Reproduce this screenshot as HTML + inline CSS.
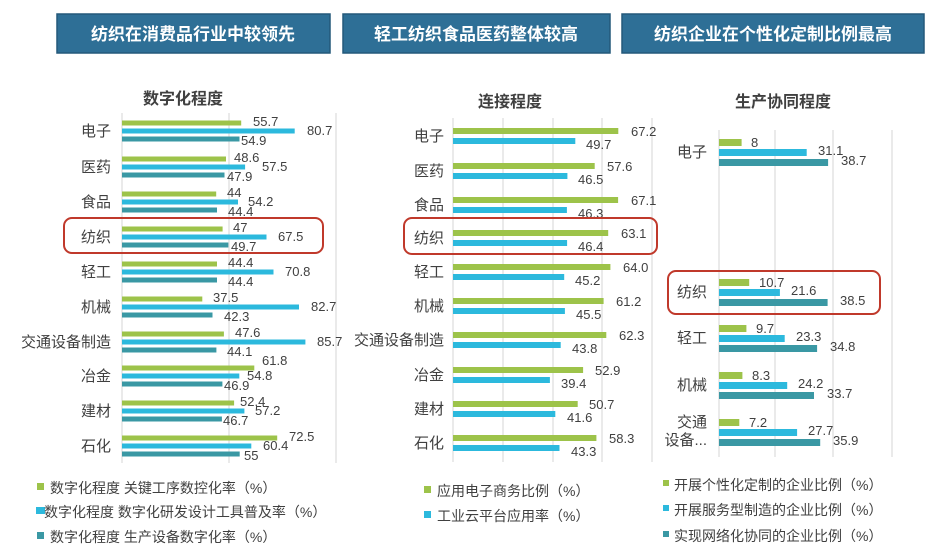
<!DOCTYPE html>
<html><head><meta charset="utf-8"><style>
html,body{margin:0;padding:0;background:#fff;}
svg{display:block;font-family:"Liberation Sans","Noto Sans CJK SC",sans-serif;}
.ban{fill:#2e6f96;stroke:#24587a;stroke-width:1.5}
.bt{fill:#fff;font-size:17px;font-weight:bold;text-anchor:middle}
.tt{fill:#404040;font-size:16px;font-weight:bold;text-anchor:middle}
.c{fill:#404040;font-size:15px;text-anchor:end}
.v{fill:#404040;font-size:13px}
.lg{fill:#404040;font-size:14px}
.g{fill:#9dc34a}.b{fill:#2cb9dd}.t{fill:#3a98a4}
.gr{stroke:#e3e3e3;stroke-width:1.5}
.rb{fill:none;stroke:#c0392b;stroke-width:2}
</style></head><body>
<svg width="946" height="557" viewBox="0 0 946 557">
<rect class="ban" x="57" y="14" width="273" height="39"/>
<text class="bt" x="193" y="40">纺织在消费品行业中较领先</text>
<rect class="ban" x="343" y="14" width="267" height="39"/>
<text class="bt" x="476" y="40">轻工纺织食品医药整体较高</text>
<rect class="ban" x="622" y="14" width="302" height="39"/>
<text class="bt" x="773" y="40">纺织企业在个性化定制比例最高</text>

<!-- LEFT -->
<text class="tt" x="183" y="104">数字化程度</text>
<line class="gr" x1="122" y1="113" x2="122" y2="463"/>
<line class="gr" x1="229" y1="113" x2="229" y2="463"/>
<line class="gr" x1="336" y1="113" x2="336" y2="463"/>
<g transform="translate(0,131)"><text class="c" x="111" y="5">电子</text><rect class="g" x="122" y="-10.5" width="119.2" height="5"/><rect class="b" x="122" y="-2.5" width="172.7" height="5"/><rect class="t" x="122" y="5.5" width="117.5" height="5"/><text class="v" x="253" y="-5">55.7</text><text class="v" x="307" y="4">80.7</text><text class="v" x="241" y="14">54.9</text></g>
<g transform="translate(0,167)"><text class="c" x="111" y="5">医药</text><rect class="g" x="122" y="-10.5" width="104" height="5"/><rect class="b" x="122" y="-2.5" width="123.1" height="5"/><rect class="t" x="122" y="5.5" width="102.5" height="5"/><text class="v" x="234" y="-5">48.6</text><text class="v" x="262" y="4">57.5</text><text class="v" x="227" y="14">47.9</text></g>
<g transform="translate(0,202)"><text class="c" x="111" y="5">食品</text><rect class="g" x="122" y="-10.5" width="94.2" height="5"/><rect class="b" x="122" y="-2.5" width="116" height="5"/><rect class="t" x="122" y="5.5" width="95" height="5"/><text class="v" x="227" y="-5">44</text><text class="v" x="248" y="4">54.2</text><text class="v" x="228" y="14">44.4</text></g>
<g transform="translate(0,237)"><text class="c" x="111" y="5">纺织</text><rect class="g" x="122" y="-10.5" width="100.6" height="5"/><rect class="b" x="122" y="-2.5" width="144.5" height="5"/><rect class="t" x="122" y="5.5" width="106.4" height="5"/><text class="v" x="233" y="-5">47</text><text class="v" x="278" y="4">67.5</text><text class="v" x="231" y="14">49.7</text></g>
<g transform="translate(0,272)"><text class="c" x="111" y="5">轻工</text><rect class="g" x="122" y="-10.5" width="95" height="5"/><rect class="b" x="122" y="-2.5" width="151.5" height="5"/><rect class="t" x="122" y="5.5" width="95" height="5"/><text class="v" x="228" y="-5">44.4</text><text class="v" x="285" y="4">70.8</text><text class="v" x="228" y="14">44.4</text></g>
<g transform="translate(0,307)"><text class="c" x="111" y="5">机械</text><rect class="g" x="122" y="-10.5" width="80.3" height="5"/><rect class="b" x="122" y="-2.5" width="177" height="5"/><rect class="t" x="122" y="5.5" width="90.5" height="5"/><text class="v" x="213" y="-5">37.5</text><text class="v" x="311" y="4">82.7</text><text class="v" x="224" y="14">42.3</text></g>
<g transform="translate(0,342)"><text class="c" x="111" y="5">交通设备制造</text><rect class="g" x="122" y="-10.5" width="101.9" height="5"/><rect class="b" x="122" y="-2.5" width="183.4" height="5"/><rect class="t" x="122" y="5.5" width="94.4" height="5"/><text class="v" x="235" y="-5">47.6</text><text class="v" x="317" y="4">85.7</text><text class="v" x="227" y="14">44.1</text></g>
<g transform="translate(0,376)"><text class="c" x="111" y="5">冶金</text><rect class="g" x="122" y="-10.5" width="132.3" height="5"/><rect class="b" x="122" y="-2.5" width="117.3" height="5"/><rect class="t" x="122" y="5.5" width="100.4" height="5"/><text class="v" x="262" y="-11">61.8</text><text class="v" x="247" y="4">54.8</text><text class="v" x="224" y="14">46.9</text></g>
<g transform="translate(0,411)"><text class="c" x="111" y="5">建材</text><rect class="g" x="122" y="-10.5" width="112.1" height="5"/><rect class="b" x="122" y="-2.5" width="122.4" height="5"/><rect class="t" x="122" y="5.5" width="99.9" height="5"/><text class="v" x="240" y="-5">52.4</text><text class="v" x="255" y="4">57.2</text><text class="v" x="223" y="14">46.7</text></g>
<g transform="translate(0,446)"><text class="c" x="111" y="5">石化</text><rect class="g" x="122" y="-10.5" width="155.2" height="5"/><rect class="b" x="122" y="-2.5" width="129.3" height="5"/><rect class="t" x="122" y="5.5" width="117.7" height="5"/><text class="v" x="289" y="-5">72.5</text><text class="v" x="263" y="4">60.4</text><text class="v" x="244" y="14">55</text></g>
<rect class="rb" x="64" y="218" width="259" height="35" rx="8"/>
<rect class="g" x="37" y="483" width="7" height="7"/><text class="lg" x="50" y="493">数字化程度 关键工序数控化率（%）</text>
<rect class="b" x="36" y="507" width="9" height="7"/><text class="lg" x="44" y="517">数字化程度 数字化研发设计工具普及率（%）</text>
<rect class="t" x="37" y="532" width="7" height="7"/><text class="lg" x="50" y="542">数字化程度 生产设备数字化率（%）</text>

<!-- MIDDLE -->
<text class="tt" x="510" y="107">连接程度</text>
<line class="gr" x1="453" y1="118" x2="453" y2="462"/>
<line class="gr" x1="503" y1="118" x2="503" y2="462"/>
<line class="gr" x1="553" y1="118" x2="553" y2="462"/>
<line class="gr" x1="602" y1="118" x2="602" y2="462"/>
<line class="gr" x1="652" y1="118" x2="652" y2="462"/>
<g transform="translate(0,136)"><text class="c" x="444" y="5">电子</text><rect class="g" x="453" y="-8" width="165.3" height="6"/><rect class="b" x="453" y="2" width="122.3" height="6"/><text class="v" x="631" y="0">67.2</text><text class="v" x="586" y="13">49.7</text></g>
<g transform="translate(0,171)"><text class="c" x="444" y="5">医药</text><rect class="g" x="453" y="-8" width="141.7" height="6"/><rect class="b" x="453" y="2" width="114.4" height="6"/><text class="v" x="607" y="0">57.6</text><text class="v" x="578" y="13">46.5</text></g>
<g transform="translate(0,205)"><text class="c" x="444" y="5">食品</text><rect class="g" x="453" y="-8" width="165.1" height="6"/><rect class="b" x="453" y="2" width="113.9" height="6"/><text class="v" x="631" y="0">67.1</text><text class="v" x="578" y="13">46.3</text></g>
<g transform="translate(0,238)"><text class="c" x="444" y="5">纺织</text><rect class="g" x="453" y="-8" width="155.2" height="6"/><rect class="b" x="453" y="2" width="114.1" height="6"/><text class="v" x="621" y="0">63.1</text><text class="v" x="578" y="13">46.4</text></g>
<g transform="translate(0,272)"><text class="c" x="444" y="5">轻工</text><rect class="g" x="453" y="-8" width="157.4" height="6"/><rect class="b" x="453" y="2" width="111.2" height="6"/><text class="v" x="623" y="0">64.0</text><text class="v" x="575" y="13">45.2</text></g>
<g transform="translate(0,306)"><text class="c" x="444" y="5">机械</text><rect class="g" x="453" y="-8" width="150.6" height="6"/><rect class="b" x="453" y="2" width="111.9" height="6"/><text class="v" x="616" y="0">61.2</text><text class="v" x="576" y="13">45.5</text></g>
<g transform="translate(0,340)"><text class="c" x="444" y="5">交通设备制造</text><rect class="g" x="453" y="-8" width="153.3" height="6"/><rect class="b" x="453" y="2" width="107.7" height="6"/><text class="v" x="619" y="0">62.3</text><text class="v" x="572" y="13">43.8</text></g>
<g transform="translate(0,375)"><text class="c" x="444" y="5">冶金</text><rect class="g" x="453" y="-8" width="130.1" height="6"/><rect class="b" x="453" y="2" width="96.9" height="6"/><text class="v" x="595" y="0">52.9</text><text class="v" x="561" y="13">39.4</text></g>
<g transform="translate(0,409)"><text class="c" x="444" y="5">建材</text><rect class="g" x="453" y="-8" width="124.7" height="6"/><rect class="b" x="453" y="2" width="102.3" height="6"/><text class="v" x="589" y="0">50.7</text><text class="v" x="567" y="13">41.6</text></g>
<g transform="translate(0,443)"><text class="c" x="444" y="5">石化</text><rect class="g" x="453" y="-8" width="143.4" height="6"/><rect class="b" x="453" y="2" width="106.5" height="6"/><text class="v" x="609" y="0">58.3</text><text class="v" x="571" y="13">43.3</text></g>
<rect class="rb" x="404" y="218" width="253" height="36" rx="8"/>
<rect class="g" x="424" y="486" width="7" height="7"/><text class="lg" x="437" y="496">应用电子商务比例（%）</text>
<rect class="b" x="424" y="511" width="7" height="7"/><text class="lg" x="437" y="521">工业云平台应用率（%）</text>

<!-- RIGHT -->
<text class="tt" x="783" y="107">生产协同程度</text>
<line class="gr" x1="719" y1="130" x2="719" y2="457"/>
<line class="gr" x1="775" y1="130" x2="775" y2="457"/>
<line class="gr" x1="833" y1="130" x2="833" y2="457"/>
<line class="gr" x1="892" y1="130" x2="892" y2="457"/>
<g transform="translate(0,152)"><text class="c" x="707" y="5">电子</text><rect class="g" x="719" y="-13" width="22.6" height="7"/><rect class="b" x="719" y="-3" width="87.7" height="7"/><rect class="t" x="719" y="7" width="109.1" height="7"/><text class="v" x="751" y="-5">8</text><text class="v" x="818" y="3">31.1</text><text class="v" x="841" y="13">38.7</text></g>
<g transform="translate(0,292)"><text class="c" x="707" y="5">纺织</text><rect class="g" x="719" y="-13" width="30.2" height="7"/><rect class="b" x="719" y="-3" width="60.9" height="7"/><rect class="t" x="719" y="7" width="108.6" height="7"/><text class="v" x="759" y="-5">10.7</text><text class="v" x="791" y="3">21.6</text><text class="v" x="840" y="13">38.5</text></g>
<g transform="translate(0,338)"><text class="c" x="707" y="5">轻工</text><rect class="g" x="719" y="-13" width="27.4" height="7"/><rect class="b" x="719" y="-3" width="65.7" height="7"/><rect class="t" x="719" y="7" width="98.1" height="7"/><text class="v" x="756" y="-5">9.7</text><text class="v" x="796" y="3">23.3</text><text class="v" x="830" y="13">34.8</text></g>
<g transform="translate(0,385)"><text class="c" x="707" y="5">机械</text><rect class="g" x="719" y="-13" width="23.4" height="7"/><rect class="b" x="719" y="-3" width="68.2" height="7"/><rect class="t" x="719" y="7" width="95" height="7"/><text class="v" x="752" y="-5">8.3</text><text class="v" x="798" y="3">24.2</text><text class="v" x="827" y="13">33.7</text></g>
<g transform="translate(0,432)"><text class="c" x="707" y="-5">交通</text><text class="c" x="707" y="13">设备...</text><rect class="g" x="719" y="-13" width="20.3" height="7"/><rect class="b" x="719" y="-3" width="78.1" height="7"/><rect class="t" x="719" y="7" width="101.2" height="7"/><text class="v" x="749" y="-5">7.2</text><text class="v" x="808" y="3">27.7</text><text class="v" x="833" y="13">35.9</text></g>
<rect class="rb" x="668" y="271" width="212" height="43" rx="8"/>
<rect class="g" x="663" y="480" width="6" height="6"/><text class="lg" x="674" y="490">开展个性化定制的企业比例（%）</text>
<rect class="b" x="663" y="505" width="6" height="6"/><text class="lg" x="674" y="515">开展服务型制造的企业比例（%）</text>
<rect class="t" x="663" y="531" width="6" height="6"/><text class="lg" x="674" y="541">实现网络化协同的企业比例（%）</text>
</svg>
</body></html>
